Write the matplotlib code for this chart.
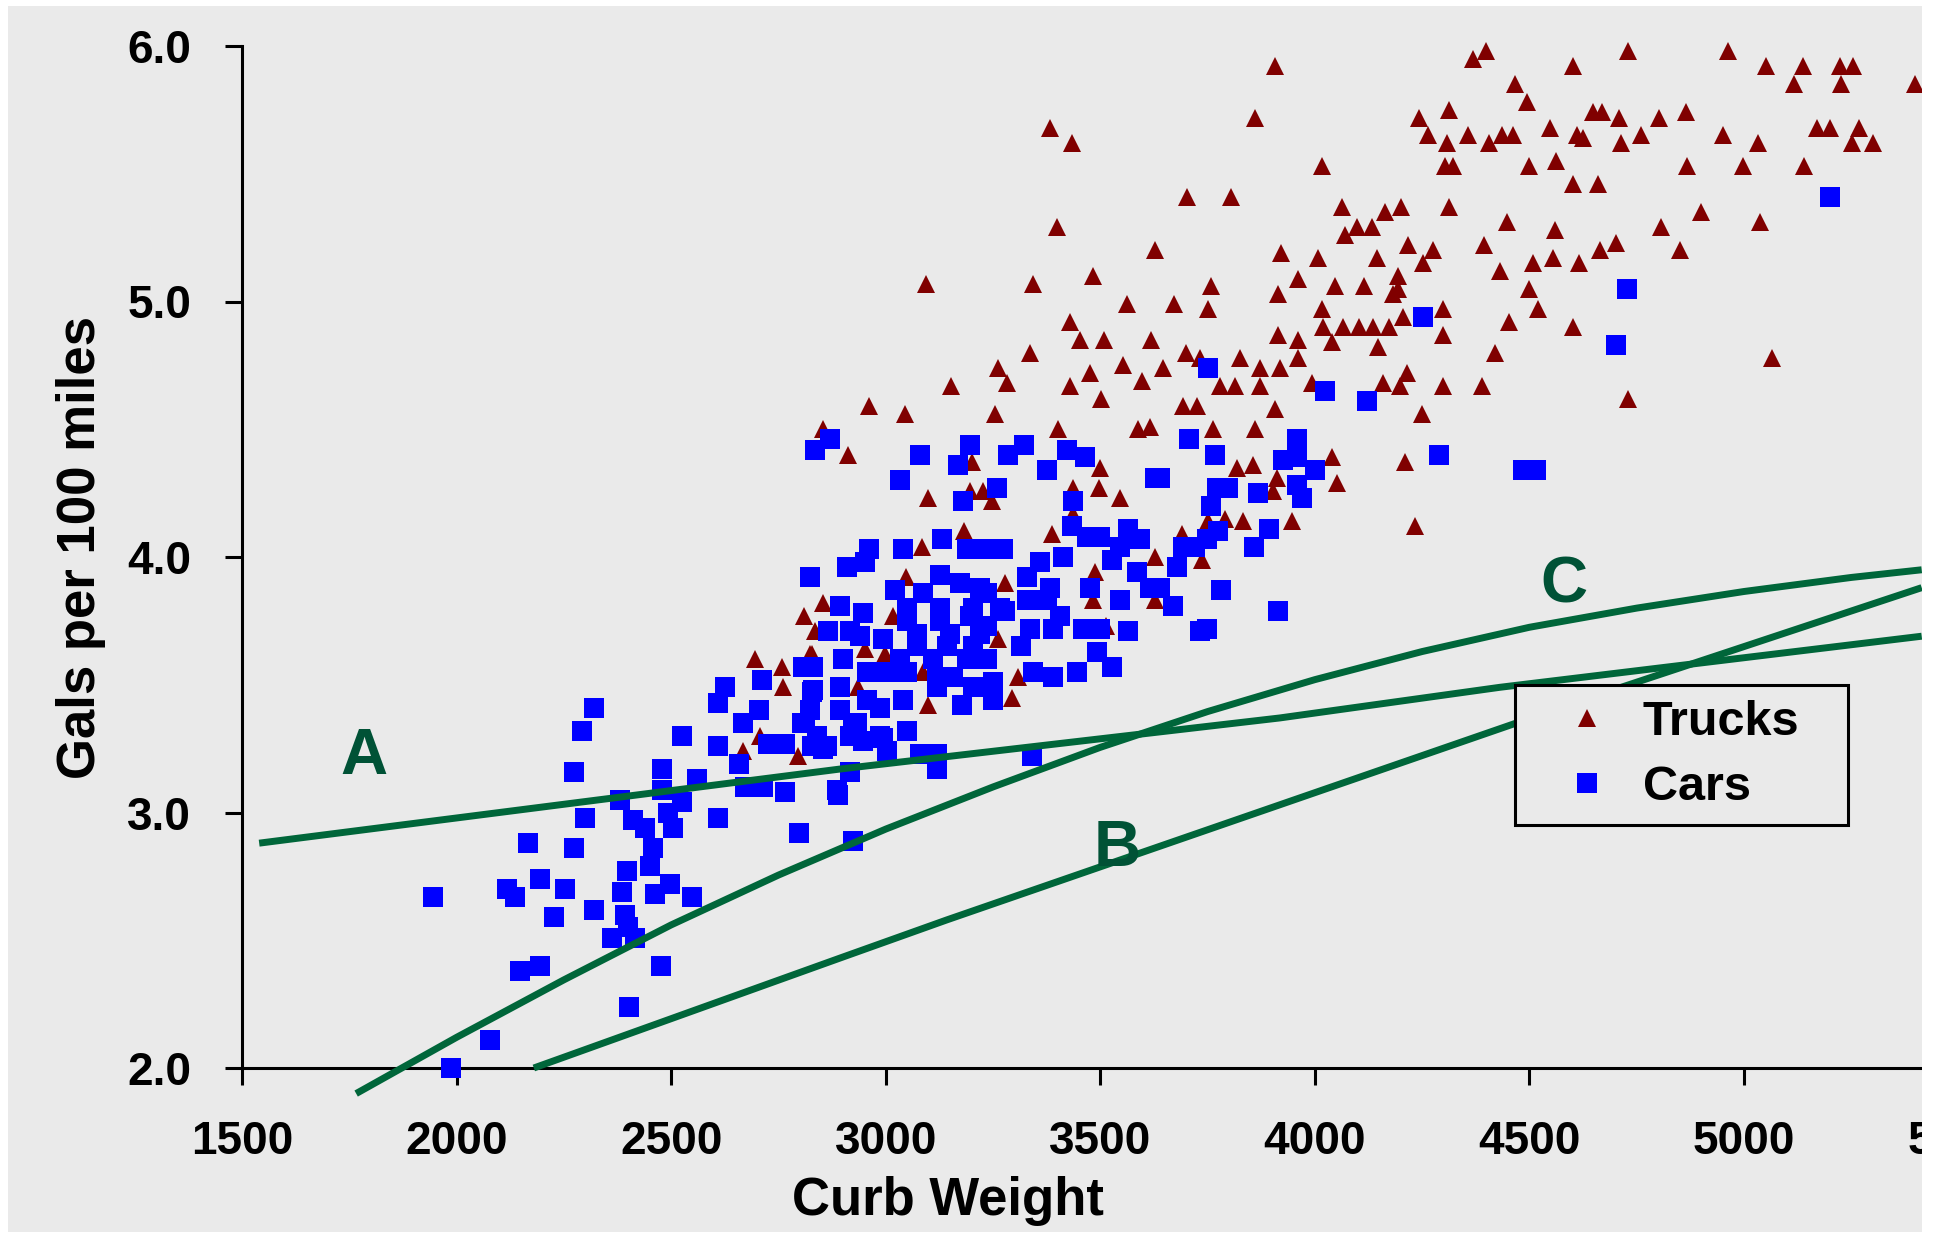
import numpy as np
import matplotlib
matplotlib.use("Agg")
import matplotlib.pyplot as plt
from matplotlib.patches import Rectangle

# Curb weight (lb) vs fuel use (gallons per 100 miles)
trucks = [
    (4730, 5.98), (4962, 5.98), (5051, 5.92), (5137, 5.92), (5223, 5.92), (5254, 5.92), (5116, 5.85), (5225, 5.85),
    (5398, 5.85), (4648, 5.74), (4669, 5.74), (4709, 5.72), (4801, 5.72), (4864, 5.74), (4624, 5.64), (4713, 5.62),
    (4759, 5.65), (4951, 5.65), (5033, 5.62), (5170, 5.68), (5200, 5.68), (5268, 5.68), (5252, 5.62), (5300, 5.62),
    (4867, 5.53), (4997, 5.53), (5140, 5.53), (4659, 5.46), (4899, 5.35), (5037, 5.31), (4806, 5.29), (4664, 5.20),
    (4702, 5.23), (4850, 5.20), (5065, 4.78), (4730, 4.62),
    (3907, 5.92), (4368, 5.95), (4399, 5.98), (4602, 5.92), (4466, 5.85), (4494, 5.78), (3860, 5.72), (4242, 5.72),
    (4312, 5.75), (4547, 5.68), (4264, 5.65), (4308, 5.62), (4356, 5.65), (4406, 5.62), (4436, 5.65), (4461, 5.65),
    (4611, 5.65), (4016, 5.53), (4303, 5.53), (4322, 5.53), (4499, 5.53), (4563, 5.55), (4602, 5.46), (3804, 5.41),
    (4063, 5.37), (4164, 5.35), (4200, 5.37), (4312, 5.37), (4447, 5.31), (4559, 5.28), (4070, 5.26), (4098, 5.29),
    (4132, 5.29), (4217, 5.22), (4275, 5.20), (4251, 5.15), (4394, 5.22), (3920, 5.19), (4007, 5.17), (4144, 5.17),
    (4508, 5.15), (4554, 5.17), (4615, 5.15), (4431, 5.12), (3758, 5.06), (3961, 5.09), (4046, 5.06), (4114, 5.06),
    (4193, 5.10), (4193, 5.05), (4182, 5.03), (4499, 5.05), (3913, 5.03), (3751, 4.97), (4016, 4.97), (4520, 4.97),
    (4205, 4.94), (4298, 4.97), (4018, 4.90), (4066, 4.90), (4103, 4.90), (4135, 4.90), (4173, 4.90), (4452, 4.92),
    (4602, 4.90), (3913, 4.87), (3961, 4.85), (4039, 4.84), (4298, 4.87), (4146, 4.82), (4419, 4.80), (3825, 4.78),
    (3961, 4.78), (3872, 4.74), (3918, 4.74), (3732, 4.78), (3779, 4.67), (3813, 4.67), (3872, 4.67), (3993, 4.68),
    (4158, 4.68), (4214, 4.72), (4198, 4.67), (4298, 4.67), (4389, 4.67), (3907, 4.58), (4249, 4.56),
    (3382, 5.68), (3434, 5.62), (3701, 5.41), (3398, 5.29), (3628, 5.20), (3094, 5.07), (3343, 5.07), (3482, 5.10),
    (3562, 4.99), (3671, 4.99), (3429, 4.92), (3452, 4.85), (3509, 4.85), (3618, 4.85), (3699, 4.80), (3336, 4.80),
    (3261, 4.74), (3282, 4.68), (3476, 4.72), (3553, 4.75), (3597, 4.69), (3646, 4.74), (3152, 4.67), (3429, 4.67),
    (3501, 4.62), (2960, 4.59), (3044, 4.56), (3254, 4.56), (3692, 4.59), (3725, 4.59),
    (3402, 4.50), (3587, 4.50), (3615, 4.51), (2853, 4.50), (2912, 4.40), (3201, 4.37), (3499, 4.35), (3197, 4.26),
    (3226, 4.26), (3247, 4.22), (3099, 4.23), (3436, 4.27), (3496, 4.27), (3546, 4.23), (3436, 4.17), (3183, 4.10),
    (3387, 4.09), (3085, 4.04), (3628, 4.00), (3047, 3.92), (3277, 3.90), (3487, 3.94), (2855, 3.82), (2809, 3.77),
    (2835, 3.71), (3017, 3.77), (3482, 3.83), (3513, 3.73), (2951, 3.64), (2998, 3.62), (2823, 3.62), (2935, 3.49),
    (3099, 3.42), (3294, 3.45), (3308, 3.53), (3261, 3.68), (3087, 3.55), (3628, 3.83),
    (3762, 4.50), (3860, 4.50), (4041, 4.39), (4210, 4.37), (3818, 4.35), (3856, 4.36), (3911, 4.31), (4052, 4.29),
    (3902, 4.26), (3751, 4.14), (3790, 4.15), (3833, 4.14), (3947, 4.14), (4233, 4.12), (3690, 4.09), (3737, 3.99),
    (2695, 3.60), (2759, 3.57), (2828, 3.62), (2761, 3.49), (2667, 3.24), (2707, 3.30), (2795, 3.22),
]

cars = [
    (5200, 5.41), (4727, 5.05), (4702, 4.83), (4251, 4.94), (4023, 4.65), (4121, 4.61), (3751, 4.74), (4485, 4.34),
    (4515, 4.34),
    (2870, 4.46), (2835, 4.42), (3197, 4.44), (3080, 4.40), (3168, 4.36), (3284, 4.40), (3322, 4.44), (3375, 4.34),
    (3422, 4.42), (3464, 4.39), (3033, 4.30), (3259, 4.27), (3180, 4.22), (3436, 4.22), (3628, 4.31), (3131, 4.07),
    (3189, 4.03), (3229, 4.03), (3273, 4.03), (3040, 4.03), (2960, 4.03), (2910, 3.96), (2951, 3.98), (2823, 3.92),
    (3434, 4.12), (3564, 4.11), (3592, 4.07), (3469, 4.08), (3499, 4.08), (3546, 4.04), (3413, 4.00), (3359, 3.98),
    (3527, 3.99), (3585, 3.94), (3615, 3.88), (3476, 3.88), (3546, 3.83), (3329, 3.92), (3382, 3.88), (3329, 3.83),
    (3375, 3.83), (3277, 3.79), (3406, 3.77), (3336, 3.72), (3390, 3.72), (3459, 3.72), (3499, 3.72), (3564, 3.71),
    (3315, 3.65), (3492, 3.63), (3527, 3.57), (3343, 3.55), (3390, 3.53), (3446, 3.55), (3250, 3.51), (3250, 3.44),
    (3177, 3.42), (3040, 3.44), (3049, 3.32), (3126, 3.93), (3172, 3.90), (3220, 3.88), (3021, 3.87), (3087, 3.86),
    (3236, 3.86), (3049, 3.80), (3126, 3.80), (3203, 3.80), (3266, 3.80), (3049, 3.75), (3126, 3.75), (3197, 3.77),
    (3236, 3.73), (2893, 3.81), (2947, 3.78), (2866, 3.71), (2916, 3.71), (2940, 3.69), (2994, 3.68), (3072, 3.70),
    (3149, 3.70), (3220, 3.70), (3072, 3.65), (3142, 3.65), (3203, 3.65), (3033, 3.60), (3110, 3.60), (3189, 3.60),
    (3236, 3.60), (2900, 3.60), (2830, 3.57), (2956, 3.55), (3003, 3.55), (3049, 3.55), (3119, 3.53), (3156, 3.53),
    (2893, 3.49), (2830, 3.48), (3203, 3.49), (2956, 3.44), (2987, 3.41), (2893, 3.40), (2823, 3.40), (2932, 3.35),
    (2812, 3.35), (2987, 3.30), (2916, 3.30), (2839, 3.30), (3119, 3.49),
    (3706, 4.46), (3958, 4.46), (3767, 4.40), (3925, 4.38), (3958, 4.39), (4000, 4.34), (4289, 4.40), (3639, 4.31),
    (3772, 4.27), (3797, 4.27), (3958, 4.28), (3867, 4.25), (3970, 4.23), (3758, 4.20), (3893, 4.11), (3774, 4.10),
    (3749, 4.07), (3692, 4.04), (3720, 4.04), (3858, 4.04), (3678, 3.96), (3639, 3.88), (3669, 3.81), (3781, 3.87),
    (3913, 3.79), (3749, 3.72), (3732, 3.71),
    (1945, 2.67), (1988, 2.00), (2077, 2.11), (2148, 2.38), (2194, 2.40), (2118, 2.70), (2136, 2.67), (2166, 2.88),
    (2194, 2.74), (2227, 2.59), (2253, 2.70), (2273, 3.16), (2292, 3.32), (2321, 3.41), (2299, 2.98), (2273, 2.86),
    (2321, 2.62), (2385, 2.69), (2392, 2.60), (2399, 2.55), (2362, 2.51), (2415, 2.51), (2401, 2.24), (2476, 2.40),
    (2381, 3.05), (2411, 2.97), (2439, 2.94), (2479, 3.17), (2479, 3.09), (2493, 3.00), (2525, 3.04), (2504, 2.94),
    (2458, 2.86), (2451, 2.79), (2397, 2.77), (2497, 2.72), (2462, 2.68), (2549, 2.67), (2560, 3.13), (2525, 3.30),
    (2609, 2.98), (2798, 2.92), (2609, 3.26), (2625, 3.49), (2609, 3.43), (2658, 3.19), (2667, 3.35), (2711, 3.52),
    (2704, 3.40), (2725, 3.27), (2765, 3.27), (2714, 3.10), (2765, 3.08), (2672, 3.10), (2807, 3.57), (2828, 3.47),
    (2805, 3.35), (2828, 3.26), (2853, 3.25), (2887, 3.09),
    (2863, 3.26), (2924, 3.33), (2947, 3.28), (2993, 3.29), (3003, 3.24), (3080, 3.23), (3119, 3.23), (3119, 3.17),
    (2917, 3.16), (2889, 3.07), (2924, 2.89), (3341, 3.22),
]

# model curves
curve_a_x = [1540, 2893, 3918, 4431, 5414]
curve_a_y = [2.88, 3.17, 3.37, 3.49, 3.69]
curve_b_x = [2180, 2893, 3143, 3918, 4624, 5414]
curve_b_y = [2.00, 2.43, 2.58, 3.03, 3.44, 3.88]
curve_c_x = [1766, 2000, 2250, 2500, 2750, 3000, 3250, 3500, 3750, 4000, 4250, 4500, 4750, 5000, 5250, 5414]
curve_c_y = [1.90, 2.12, 2.345, 2.56, 2.755, 2.935, 3.10, 3.255, 3.395, 3.52, 3.63, 3.725, 3.80, 3.865, 3.92, 3.95]

curve_labels = ["A", "B", "C"]
label_x = [1784, 3539, 4580]
label_y = [3.15, 2.79, 3.82]

x_ticks = [1500, 2000, 2500, 3000, 3500, 4000, 4500, 5000, 5500]
y_ticks = [2.0, 3.0, 4.0, 5.0, 6.0]

W, H = 1934, 1238
BG = "#EAEAEA"
GREEN = "#00663A"

plt.rcParams["font.family"] = ["Liberation Sans", "DejaVu Sans"]
plt.rcParams["font.weight"] = "bold"

fig = plt.figure(figsize=(W / 100, H / 100), dpi=100, facecolor="white")
fig.add_artist(Rectangle((8 / W, 6 / H), (1922 - 8) / W, (1232 - 6) / H,
                         transform=fig.transFigure, facecolor=BG, edgecolor="none", zorder=-10))

# plot area runs past the right edge of the canvas
ax = fig.add_axes([242 / W, (H - 1068) / H, (1958.6 - 242) / W, (1068 - 46) / H])
ax.set_facecolor("none")
ax.set_xlim(1500, 5500)
ax.set_ylim(2, 6)

tx, ty = np.array(trucks).T
cx, cy = np.array(cars).T
ax.plot(tx, ty, "^", color="#800000", ms=13, mew=0, clip_on=False, zorder=3, label="Trucks")
ax.plot(cx, cy, "s", color="#0000FF", ms=14, mew=0, clip_on=False, zorder=4, label="Cars")

for xs, ys in [(curve_a_x, curve_a_y), (curve_b_x, curve_b_y), (curve_c_x, curve_c_y)]:
    ax.plot(xs, ys, color=GREEN, lw=5, solid_capstyle="butt", solid_joinstyle="round",
            clip_on=False, zorder=5)

for lab, lx, ly in zip(curve_labels, label_x, label_y):
    ax.text(lx, ly, lab, color="#005236", fontsize=47, fontweight="bold",
            ha="center", va="baseline", zorder=6)

ax.set_xticks(x_ticks)
ax.set_yticks(y_ticks)
ax.set_yticklabels([f"{v:.1f}" for v in y_ticks])
ax.tick_params(axis="both", direction="out", length=12.5, width=2.2, labelsize=33, color="black")
ax.tick_params(axis="x", pad=25)
ax.tick_params(axis="y", pad=24)
for side in ["top", "right"]:
    ax.spines[side].set_visible(False)
for side in ["left", "bottom"]:
    ax.spines[side].set_linewidth(2.2)

ax.set_xlabel("Curb Weight", fontsize=38, fontweight="bold", x=0.411, labelpad=8.5)
ax.set_ylabel("Gals per 100 miles", fontsize=38, fontweight="bold", y=0.509, labelpad=15)

leg = ax.legend(loc="upper left", bbox_to_anchor=(1515 / W, 1 - 828 / H, 333 / W, 143 / H),
                bbox_transform=fig.transFigure, mode="expand", borderaxespad=0,
                numpoints=1, fontsize=35, borderpad=0.3, handlelength=2.36,
                handletextpad=-0.03, labelspacing=0.42, fancybox=False,
                framealpha=1, facecolor=BG, edgecolor="black")
leg.get_frame().set_linewidth(2.2)
leg.set_zorder(7)

# the right-hand margin hides whatever spills over the plot area
fig.add_artist(Rectangle((1922 / W, 0), 12 / W, 1, transform=fig.transFigure,
                         facecolor="white", edgecolor="none", zorder=20))

fig.savefig("out.png", dpi=100, facecolor="white")
